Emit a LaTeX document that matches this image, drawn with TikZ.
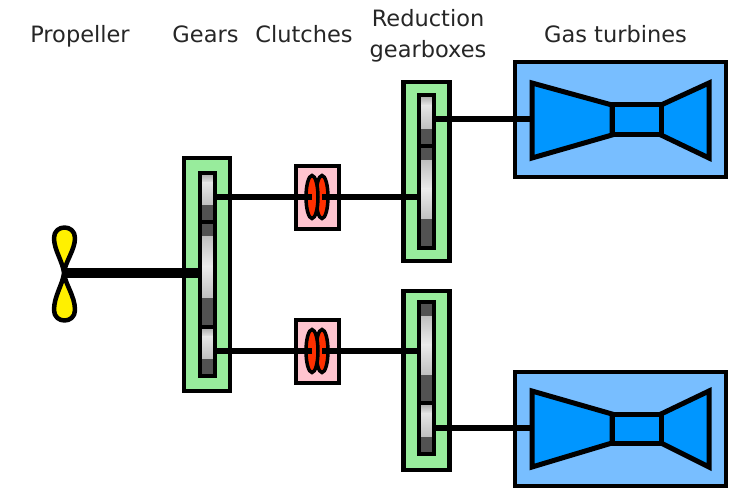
\documentclass[tikz,border=0pt]{standalone}
\usepackage{fontspec}
\setmainfont{DejaVu Sans}
\definecolor{boxgreen}{HTML}{98EC9C}
\definecolor{boxpink}{HTML}{FFC4CF}
\definecolor{discred}{HTML}{FF3000}
\definecolor{boxblue}{HTML}{78BEFF}
\definecolor{turbblue}{HTML}{0096FF}
\definecolor{bladeyellow}{HTML}{FFF000}
\usetikzlibrary{shapes.geometric}
\tikzset{
  gearcase/.style={draw=black,line width=4.5pt,fill=boxgreen,minimum width=46pt,inner sep=0pt,outer sep=0pt},
  clutchcase/.style={draw=black,line width=4pt,fill=boxpink,minimum width=43pt,minimum height=63pt,inner sep=0pt,outer sep=0pt},
  turbcase/.style={draw=black,line width=4pt,fill=boxblue,minimum width=211pt,minimum height=114pt,inner sep=0pt,outer sep=0pt},
  gearcol/.style={draw=black,line width=4.5pt,minimum width=15pt,inner sep=0pt,outer sep=0pt},
  shaft/.style={line width=5.5pt,draw=black},
  mainshaft/.style={line width=10pt,draw=black},
  turbpart/.style={draw=black,line width=5pt,fill=turbblue,line join=miter},
  disc/.style={draw=black,line width=3.5pt,fill=discred,ellipse,minimum width=12pt,minimum height=43pt,inner sep=0pt,outer sep=0pt},
  lab/.style={font=\fontsize{22.5}{27}\selectfont,inner sep=0pt,align=center,text=black!85,anchor=base}
}
% #1 x-left, #2 y-top, #3 y-bottom: shaded strip of one gear
\newcommand{\gearstrip}[3]{%
  \shade[top color=black!35,bottom color=black!10] (#1,#2) rectangle (#1+15,#2+0.2*#3-0.2*#2);
  \shade[top color=black!10,bottom color=black!25] (#1,#2+0.2*#3-0.2*#2) rectangle (#1+15,#2+0.66*#3-0.66*#2);
  \fill[black!68] (#1,#2+0.66*#3-0.66*#2) rectangle (#1+15,#3);
}
\newcommand{\gearstripflip}[3]{%
  \fill[black!68] (#1,#2) rectangle (#1+15,#2+0.14*#3-0.14*#2);
  \shade[top color=black!25,bottom color=black!8] (#1,#2+0.14*#3-0.14*#2) rectangle (#1+15,#2+0.42*#3-0.42*#2);
  \shade[top color=black!8,bottom color=black!25] (#1,#2+0.42*#3-0.42*#2) rectangle (#1+15,#2+0.72*#3-0.72*#2);
  \fill[black!68] (#1,#2+0.72*#3-0.72*#2) rectangle (#1+15,#3);
}
\begin{document}
\begin{tikzpicture}[x=1pt,y=-1pt]
\useasboundingbox (0,0) rectangle (735,489);
% labels
\node[lab] (lprop) at (80,43) {Propeller};
\node[lab] (lgear) at (205.5,43) {Gears};
\node[lab] (lclut) at (304,43) {Clutches};
\node[lab] (lredA) at (428,27) {Reduction};
\node[lab] (lredB) at (428,58) {gearboxes};
\node[lab] (lturb) at (615.5,43) {Gas turbines};
% cases
\node[gearcase,minimum height=233pt] (gA) at (207,274.5) {};
\node[gearcase,minimum height=179pt] (gB) at (426.5,171.5) {};
\node[gearcase,minimum height=179pt] (gC) at (426.5,380.5) {};
\node[clutchcase] (cA) at (317,197.5) {};
\node[clutchcase] (cB) at (317,351.5) {};
\node[turbcase] (tA) at (620,119.5) {};
\node[turbcase] (tB) at (620,428.5) {};
% gear strips
\gearstrip{200}{173}{222}
\gearstripflip{200}{222}{327}
\gearstrip{200}{327}{376}
\gearstrip{419}{95}{146}
\gearstripflip{419}{146}{248}
\gearstripflip{419}{302}{403}
\gearstrip{419}{403}{454}
\node[gearcol,minimum height=203pt] (sA) at (207.5,274.5) {};
\node[gearcol,minimum height=153pt] (sB) at (426.5,171.5) {};
\node[gearcol,minimum height=152pt] (sC) at (426.5,378) {};
\draw[line width=3.5pt] (sA.west |- 0,222) -- (sA.east |- 0,222);
\draw[line width=3.5pt] (sA.west |- 0,327) -- (sA.east |- 0,327);
\draw[line width=3.5pt] (sB.west |- 0,146) -- (sB.east |- 0,146);
\draw[line width=3.5pt] (sC.west |- 0,403) -- (sC.east |- 0,403);
% turbines
\coordinate (hA) at (532,119);
\coordinate (hB) at (532,428);
\draw[turbpart] (532,83) -- (612,105) -- (612,135) -- (532,158) -- cycle;
\draw[turbpart] (709,83) -- (661,105) -- (661,135) -- (709,158) -- cycle;
\draw[turbpart] (612,105) rectangle (661,135);
\draw[turbpart] (532,391) -- (612,414) -- (612,443) -- (532,467) -- cycle;
\draw[turbpart] (709,391) -- (661,414) -- (661,443) -- (709,467) -- cycle;
\draw[turbpart] (612,414) rectangle (661,443);
% clutches and shafts
\coordinate (yA) at (0,197);
\coordinate (yB) at (0,351);
\coordinate (yC) at (0,119);
\coordinate (yD) at (0,428);
\node[disc] (d1) at (322,197) {};
\draw[shaft] (d1.center) -- (sB.west |- yA);
\node[disc] (d2) at (312,197) {};
\draw[shaft] (sA.east |- yA) -- (d2.center);
\node[disc] (d3) at (322,351) {};
\draw[shaft] (d3.center) -- (sC.west |- yB);
\node[disc] (d4) at (312,351) {};
\draw[shaft] (sA.east |- yB) -- (d4.center);
\draw[shaft] (sB.east |- yC) -- (hA);
\draw[shaft] (sC.east |- yD) -- (hB);
% propeller
\coordinate (hub) at (64,273);
\draw[draw=black,line width=4.5pt,fill=bladeyellow,line join=round] (hub)
  .. controls (63,262) and (54,250) .. (54,238)
  .. controls (54,224) and (75,224) .. (75,238)
  .. controls (75,250) and (65,262) .. (hub)
  .. controls (63,284) and (54,296) .. (54,310)
  .. controls (54,324) and (75,324) .. (75,310)
  .. controls (75,296) and (65,284) .. (hub) -- cycle;
\draw[mainshaft] (hub) -- (sA.west |- hub);
\end{tikzpicture}
\end{document}
